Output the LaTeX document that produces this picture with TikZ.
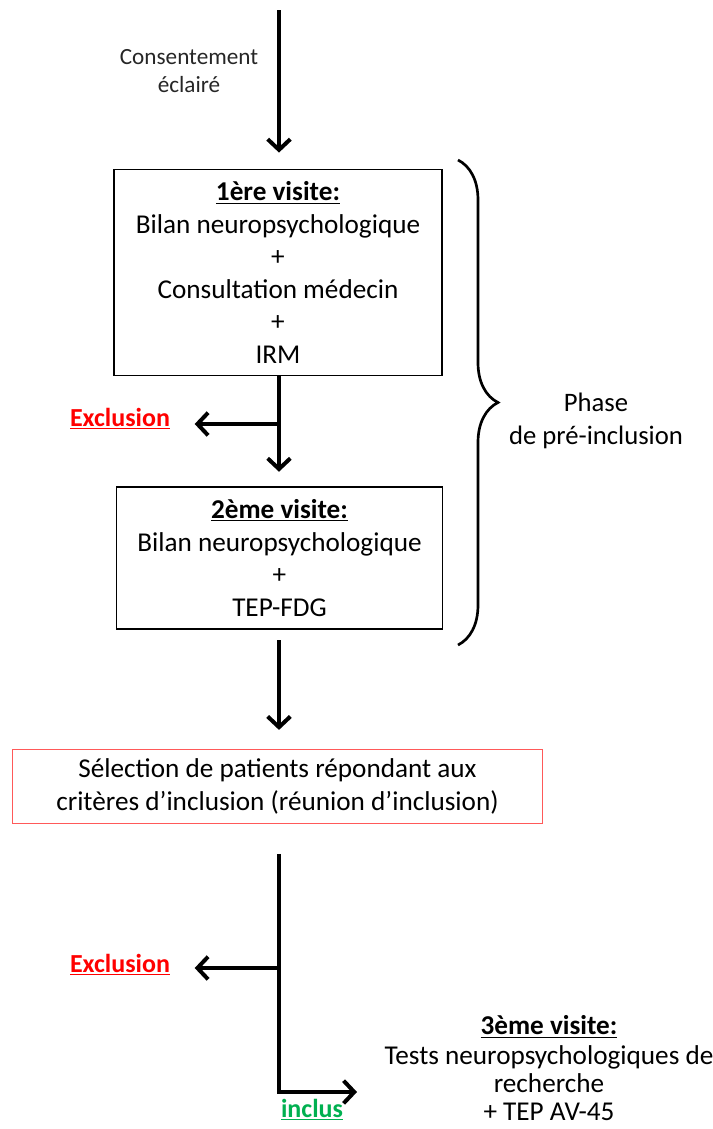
\documentclass[tikz,border=0pt]{standalone}
\usepackage{fontspec}
\setmainfont{Carlito}
\usetikzlibrary{arrows.meta,decorations.pathreplacing}
\definecolor{exclred}{RGB}{255,0,0}
\definecolor{inclgreen}{RGB}{0,176,80}
\begin{document}
\begin{tikzpicture}[x=0.75pt, y=-0.75pt,
  box/.style={draw, line width=0.9pt, align=center, inner sep=0pt,
    font=\fontsize{20.4}{24.4}\selectfont},
  flow/.style={line width=3pt, -{Straight Barb[length=8pt,width=17pt,line width=3pt]}},
  excl/.style={text=exclred, font=\fontsize{19.5}{22}\selectfont\bfseries},
  note/.style={align=center, font=\fontsize{20}{24.4}\selectfont}]
  \useasboundingbox (0,0) rectangle (713,1129);
  \coordinate (start) at (279,10);
  \node[box, minimum width=246pt, minimum height=155pt] (v1) at (278,272.5)
    {\textbf{\underline{1ère visite:}}\\Bilan neuropsychologique\\+\\Consultation médecin\\+\\IRM};
  \node[align=center, text=black!85, font=\fontsize{17.4}{21.5}\selectfont] (consent) at (189,71)
    {Consentement\\éclairé};
  \coordinate (j1) at (279,424);
  \node[excl] (ex1) at (120,419) {\underline{Exclusion}};
  \node[box, minimum width=244pt, minimum height=106.5pt] (v2) at (279.5,558)
    {\textbf{\underline{2ème visite:}}\\Bilan neuropsychologique\\+\\TEP-FDG};
  \node[box, draw=red!65, minimum width=397pt, minimum height=56pt] (sel) at (277.5,786.5)
    {Sélection de patients répondant aux\\critères d’inclusion (réunion d’inclusion)};
  \coordinate (j2) at (279,968);
  \coordinate (j3) at (279,1092);
  \coordinate (j3end) at (357,1092);
  \node[excl] (ex2) at (120,965) {\underline{Exclusion}};
  \node[text=inclgreen, font=\fontsize{19.5}{22}\selectfont\bfseries] (inc) at (312,1110) {\underline{inclus}};
  \node[align=center, font=\fontsize{20.4}{21}\selectfont] (v3) at (549,1068)
    {\textbf{\underline{3ème visite:}}\\[1pt]Tests neuropsychologiques de\\recherche\\+ TEP AV-45};
  \node[note] (phase) at (596,421) {Phase\\de pré-inclusion};
  \draw[flow, shorten >=12pt] (start) -- (v1.north -| start);
  \draw[flow, shorten >=11pt] (v1.south -| start) -- (v2.north -| start);
  \draw[flow, shorten >=15pt] (j1) -- (j1 -| ex1.east);
  \draw[flow, shorten <=8pt, shorten >=14pt] (v2.south -| start) -- (sel.north -| start);
  \draw[flow, shorten <=22pt] (sel.south -| start) -- (j3) -- (j3end);
  \draw[flow, shorten >=15pt] (j2) -- (j2 -| ex2.east);
  \draw[line width=2pt, decorate, decoration={brace, amplitude=30pt}] (458,160) -- (458,645);
\end{tikzpicture}
\end{document}
